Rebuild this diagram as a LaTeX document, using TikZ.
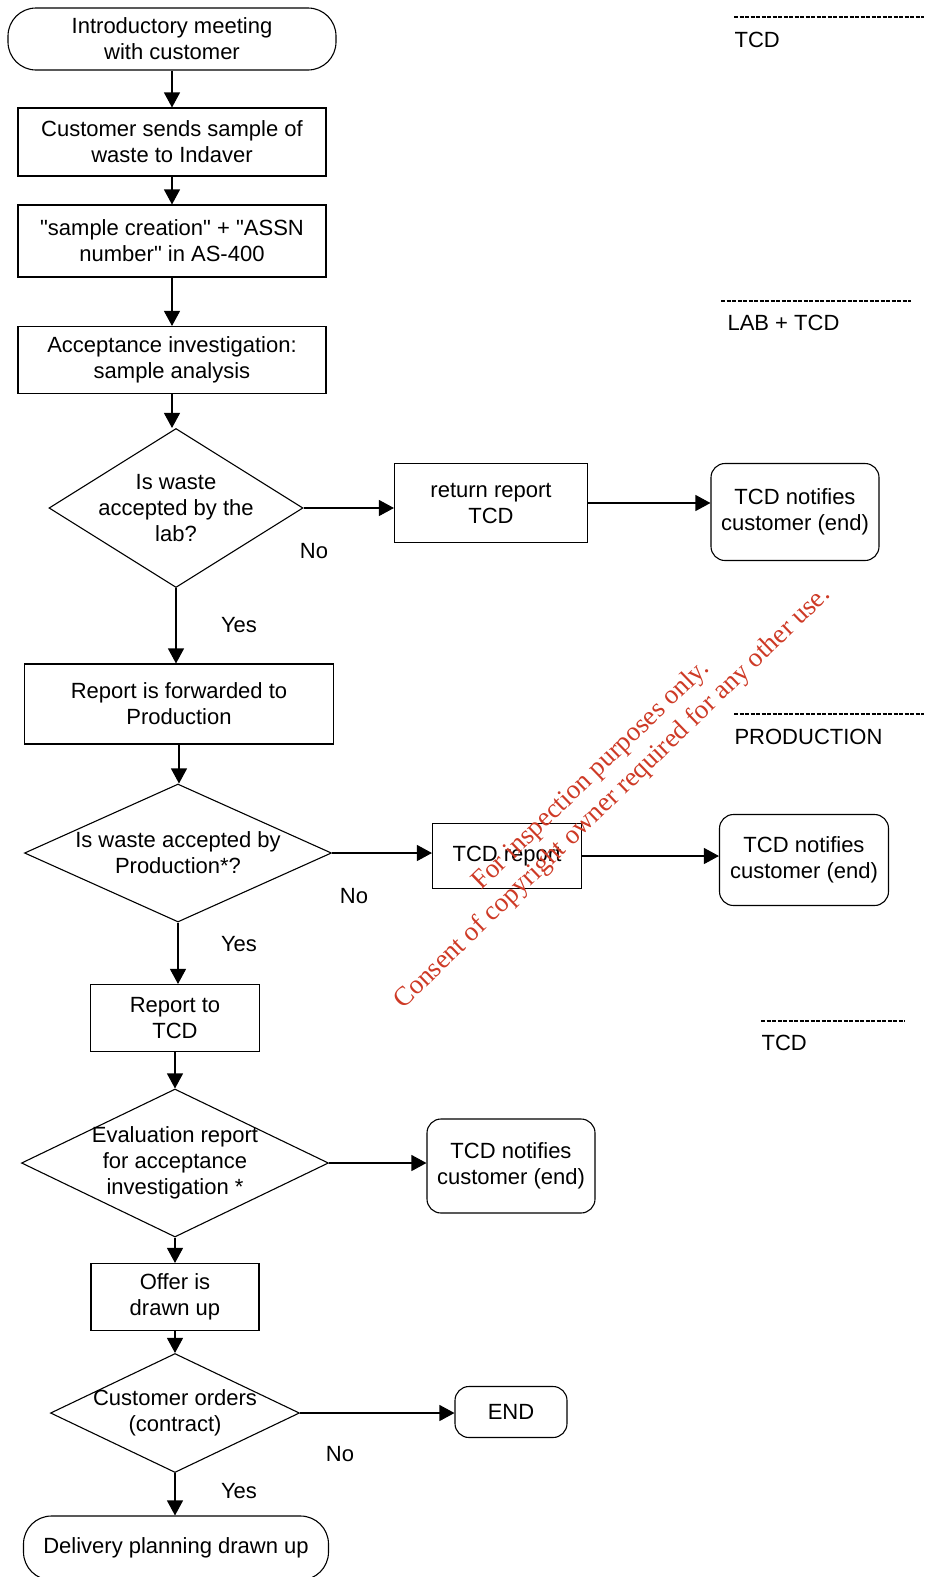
\documentclass[tikz,border=0pt]{standalone}
\usepackage{fontspec}
\setmainfont{Liberation Sans}
\newfontfamily\wmfont{Liberation Serif}
\usepackage{tikz}
\usetikzlibrary{shapes.geometric,arrows.meta}
\definecolor{wmred}{RGB}{206,58,38}
\tikzstyle{stepbox} = [draw=black, rectangle, align=center, inner sep=2pt]
\tikzstyle{termbox} = [draw=black, rectangle, rounded corners=28pt, align=center, inner sep=2pt]
\tikzstyle{endbox} = [draw=black, rectangle, rounded corners=14pt, align=center, inner sep=2pt]
\tikzstyle{decision} = [draw=black, diamond, inner sep=0pt]
\tikzstyle{flow} = [-{Triangle[length=15pt,width=16pt]}]
\tikzstyle{answer} = [inner sep=0pt]
\tikzstyle{dept} = [anchor=west, inner sep=0pt]
\tikzstyle{deptline} = [dash pattern=on 4pt off 1.5pt]
\tikzstyle{wmark} = [rotate=44, align=center, text=wmred, inner sep=0pt, font=\wmfont\fontsize{27}{31}\selectfont]

\begin{document}
\begin{tikzpicture}[x=1pt, y=-1pt, line width=1.1pt,
    every node/.style={font=\fontsize{22}{26}\selectfont}]
        \useasboundingbox (0,0) rectangle (924,1577);
        % main column
        \node [termbox, minimum width=328pt, minimum height=62pt] (start) at (172,39) {Introductory meeting\\with customer};
        \node [stepbox, minimum width=308pt, minimum height=68pt] (send) at (172,142) {Customer sends sample of\\waste to Indaver};
        \node [stepbox, minimum width=308pt, minimum height=72pt] (create) at (172,241) {\textquotedbl sample creation\textquotedbl{} + \textquotedbl ASSN\\number\textquotedbl{} in AS-400};
        \node [stepbox, minimum width=308pt, minimum height=67pt] (accept) at (172,360) {Acceptance investigation:\\sample analysis};
        \node [decision, minimum width=254pt, minimum height=159pt,
            label={[align=center]center:{Is waste\\accepted by the\\lab?}}] (lab) at (176,508) {};
        \node [stepbox, minimum width=309pt, minimum height=80pt] (fwd) at (179,704) {Report is forwarded to\\Production};
        \node [decision, minimum width=307pt, minimum height=138pt,
            label={[align=center]center:{Is waste accepted by\\Production*?}}] (prod) at (178,853) {};
        \node [stepbox, minimum width=169pt, minimum height=67pt] (rep) at (175,1018) {Report to\\TCD};
        \node [decision, minimum width=307pt, minimum height=148pt,
            label={[align=center]center:{Evaluation report\\for acceptance\\investigation *}}] (eval) at (175,1163) {};
        \node [stepbox, minimum width=168pt, minimum height=67pt] (offer) at (175,1297) {Offer is\\drawn up};
        \node [decision, minimum width=249pt, minimum height=119pt,
            label={[align=center]center:{Customer orders\\(contract)}}] (order) at (175,1413) {};
        \node [termbox, minimum width=305pt, minimum height=64pt] (plan) at (176,1548) {Delivery planning drawn up};

        % side branches
        \node [stepbox, minimum width=193pt, minimum height=79pt] (ret) at (491,503) {return report\\TCD};
        \node [endbox, minimum width=168pt, minimum height=97pt] (note1) at (795,512) {TCD notifies\\customer (end)};
        \node [stepbox, minimum width=149pt, minimum height=65pt] (tcdrep) at (507,856) {TCD report};
        \node [endbox, minimum width=169pt, minimum height=91pt] (note2) at (804,860) {TCD notifies\\customer (end)};
        \node [endbox, minimum width=168pt, minimum height=94pt] (note3) at (511,1166) {TCD notifies\\customer (end)};
        \node [endbox, minimum width=112pt, minimum height=51pt] (stop) at (511,1412) {END};

        % arrows
        \draw [flow] (start.south) -- (start.south |- send.north);
        \draw [flow] (send.south) -- (send.south |- create.north);
        \draw [flow] (create.south) -- (create.south |- accept.north);
        \draw [flow] (accept.south) -- (accept.south |- lab.north);
        \draw [flow] (lab.south) -- (lab.south |- fwd.north);
        \draw [flow] (fwd.south) -- (fwd.south |- prod.north);
        \draw [flow] (prod.south) -- (prod.south |- rep.north);
        \draw [flow] (rep.south) -- (rep.south |- eval.north);
        \draw [flow] (eval.south) -- (eval.south |- offer.north);
        \draw [flow] (offer.south) -- (offer.south |- order.north);
        \draw [flow] (order.south) -- (order.south |- plan.north);
        \draw [flow] (lab.east) -- (lab.east -| ret.west);
        \draw [flow] (ret.east) -- (ret.east -| note1.west);
        \draw [flow] (prod.east) -- (prod.east -| tcdrep.west);
        \draw [flow] (tcdrep.east) -- (tcdrep.east -| note2.west);
        \draw [flow] (eval.east) -- (eval.east -| note3.west);
        \draw [flow] (order.east) -- (order.east -| stop.west);

        % yes / no
        \node [answer] (no1) at (314,551) {No};
        \node [answer] (yes1) at (239,625) {Yes};
        \node [answer] (no2) at (354,896) {No};
        \node [answer] (yes2) at (239,944) {Yes};
        \node [answer] (no3) at (340,1454) {No};
        \node [answer] (yes3) at (239,1491) {Yes};

        % departments
        \draw [deptline] (734,17) -- (924,17);
        \node [dept] (dtcd) at (734,40) {TCD};
        \draw [deptline] (721,301) -- (911,301);
        \node [dept] (dlab) at (727,323) {LAB + TCD};
        \draw [deptline] (734,714) -- (924,714);
        \node [dept] (dprod) at (734,737) {PRODUCTION};
        \draw [deptline] (761,1021) -- (905,1021);
        \node [dept] (dtcd2) at (761,1043) {TCD};

        \node [wmark] (wm) at (602,787) {For inspection purposes only.\\Consent of copyright owner required for any other use.};
    \end{tikzpicture}
\end{document}
